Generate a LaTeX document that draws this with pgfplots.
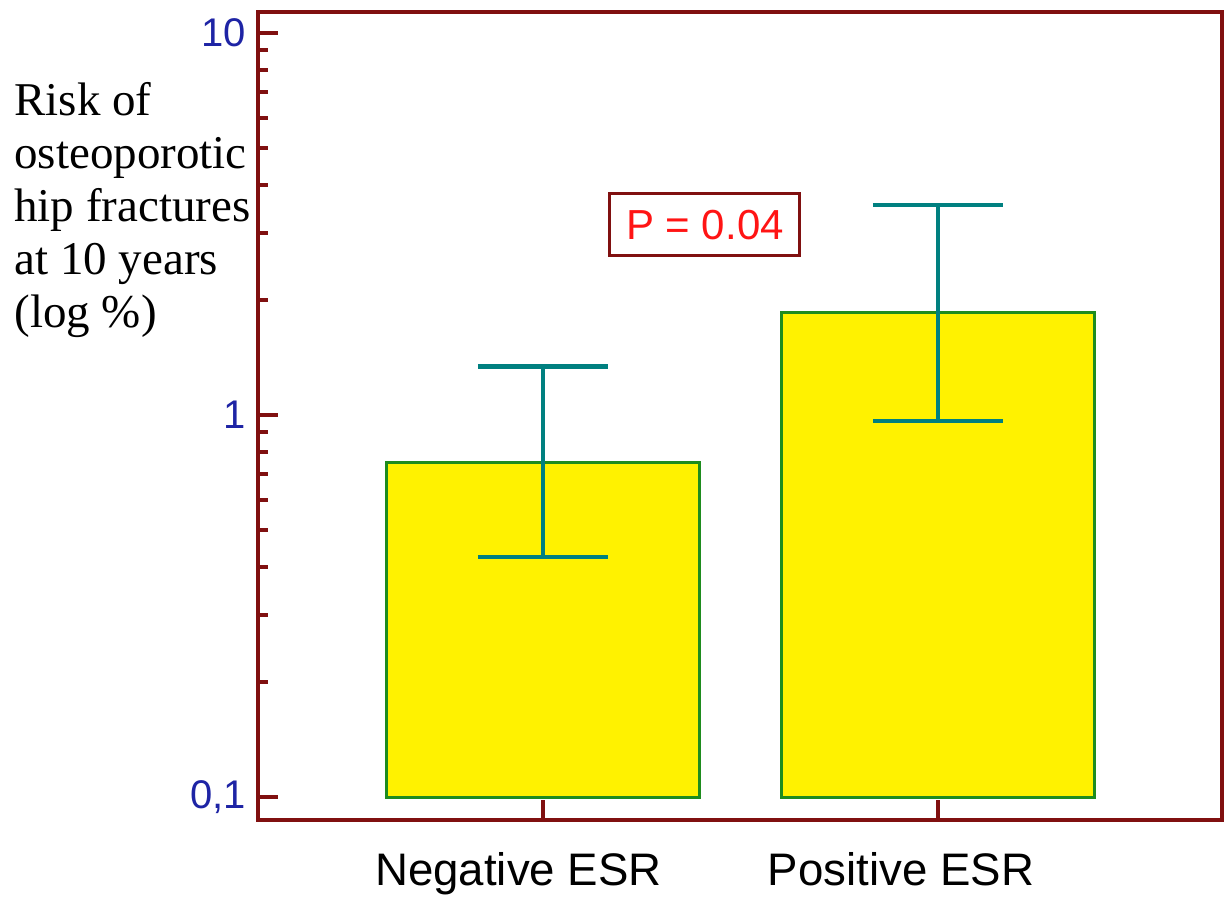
\documentclass[border=0pt]{standalone}
\usepackage{fontspec}
\setmainfont{Liberation Serif}
\setsansfont{Liberation Sans}
\usepackage{pgfplots}
\pgfplotsset{compat=1.18}
\definecolor{frame}{RGB}{128,16,16}
\definecolor{tickblue}{RGB}{30,36,165}
\definecolor{bargreen}{RGB}{30,140,30}
\definecolor{errteal}{RGB}{0,128,128}
\definecolor{pred}{RGB}{255,20,20}
\begin{document}
\begin{tikzpicture}
\path[use as bounding box] (0,0) rectangle (612pt,451.5pt);
\begin{axis}[
  at={(129pt,41.5pt)}, anchor=south west,
  scale only axis, width=482pt, height=404pt,
  ymode=log, ymin=0.08706, ymax=11.35,
  xmin=-0.7215, xmax=1.719,
  clip=false,
  axis line style={frame, line width=2pt},
  tick align=inside,
  major tick length=10pt, minor tick length=5pt,
  tick style={frame, line width=2pt},
  xtick pos=bottom, ytick pos=left,
  xtick={0,1}, xticklabels={Negative ESR\hspace*{24.5pt}, Positive ESR\hspace*{37pt}},
  xticklabel style={font=\sffamily\fontsize{22.8}{27}\selectfont, text=black, yshift=-12.5pt},
  ytick={0.1,1,10}, yticklabels={{0,1},1,10},
  yticklabel style={font=\sffamily\fontsize{20}{24}\selectfont, text=tickblue, xshift=-2.5pt},
]
% bars (base at 0.1)
\addplot[fill=yellow, draw=bargreen, line width=1.5pt] coordinates {(-0.396,0.1) (-0.396,0.753) (0.396,0.753) (0.396,0.1)} -- cycle;
\addplot[fill=yellow, draw=bargreen, line width=1.5pt] coordinates {(0.604,0.1) (0.604,1.85) (1.396,1.85) (1.396,0.1)} -- cycle;
% error bars: Negative ESR 0.425 -- 1.34
\addplot[errteal, line width=2.2pt] coordinates {(0,0.425) (0,1.34)};
\addplot[errteal, line width=2.2pt] coordinates {(-0.1646,1.34) (0.1646,1.34)};
\addplot[errteal, line width=2.2pt] coordinates {(-0.1646,0.425) (0.1646,0.425)};
% error bars: Positive ESR 0.965 -- 3.55
\addplot[errteal, line width=2.2pt] coordinates {(1,0.965) (1,3.55)};
\addplot[errteal, line width=2.2pt] coordinates {(0.8354,3.55) (1.1646,3.55)};
\addplot[errteal, line width=2.2pt] coordinates {(0.8354,0.965) (1.1646,0.965)};
\node[draw=frame, line width=1.5pt, text=pred, font=\sffamily\fontsize{21}{25}\selectfont,
  minimum width=95pt, minimum height=31pt, inner sep=0pt] at (axis cs:0.41,3.144) {P = 0.04};
\end{axis}
\node[anchor=north west, align=left, inner sep=0pt, font=\fontsize{23.5}{26.5}\selectfont] at (7pt,410.7pt)
  {Risk of\\osteoporotic\\hip fractures\\at 10 years\\(log \%)};
\end{tikzpicture}
\end{document}
